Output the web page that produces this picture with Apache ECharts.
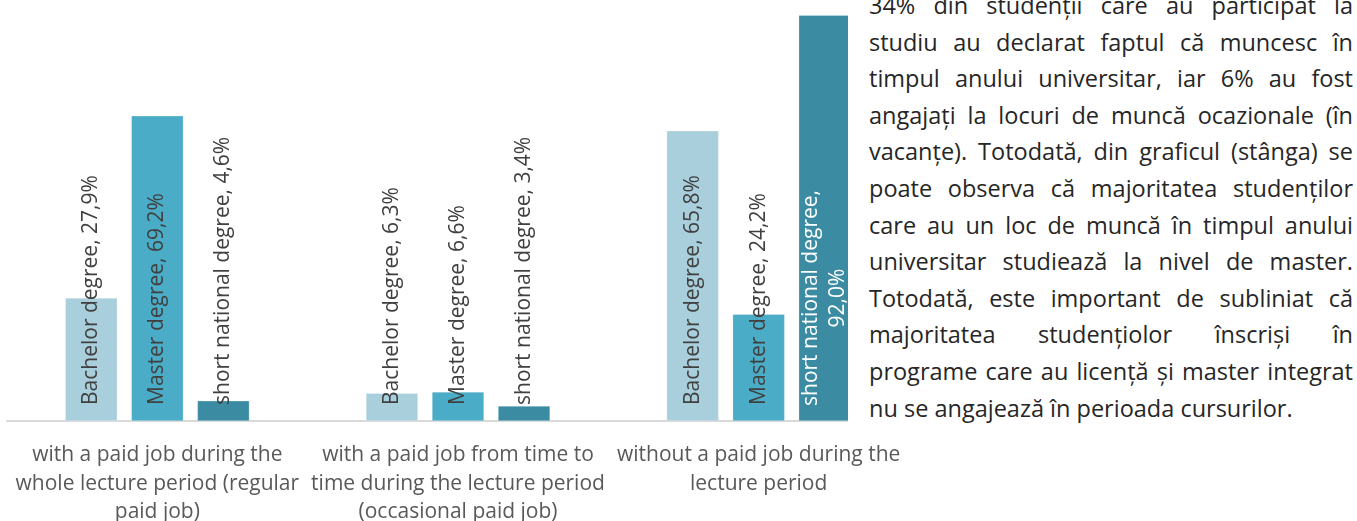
<!DOCTYPE html>
<html>
<head>
<meta charset="utf-8">
<script src="https://cdn.jsdelivr.net/npm/echarts@6/dist/echarts.min.js"></script>
<style>
  html, body { margin: 0; padding: 0; background: #fff; }
  #wrap { position: relative; width: 1357px; height: 521px; overflow: hidden; }
  #chart { position: absolute; left: 0; top: 0; width: 1357px; height: 521px; }
  #note {
    position: absolute; left: 848px; top: 0; width: 509px; height: 423px;
    background: #fff; overflow: hidden;
  }
  #note .inner {
    margin-left: 21px; width: 484px; margin-top: -13px;
    font-family: "Open Sans", sans-serif; font-size: 23.5px;
    line-height: 36.6px; color: #262626;
  }
  #note .line { white-space: nowrap; text-align: justify; text-align-last: justify; }
  #note .line.last { text-align: left; text-align-last: left; }
</style>
</head>
<body>
<div id="wrap">
  <div id="chart"></div>
  <div id="note"><div class="inner" id="noteInner"></div></div>
</div>
<script>
const categories = [
  "with a paid job during the\nwhole lecture period (regular\npaid job)",
  "with a paid job from time to\ntime during the lecture period\n(occasional paid job)",
  "without a paid job during the\nlecture period",
];
const seriesNames = ["Bachelor degree", "Master degree", "short national degree"];
const bachelor = [27.9, 6.3, 65.8];
const master = [69.2, 6.6, 24.2];
const shortNational = [4.6, 3.4, 92.0];
const colors = ["#a9cfdc", "#4aacc6", "#3b8ca3"];

const noteLines = [
  "34% din studenții care au participat la",
  "studiu au declarat faptul că muncesc în",
  "timpul anului universitar, iar 6% au fost",
  "angajați la locuri de muncă ocazionale (în",
  "vacanțe). Totodată, din graficul (stânga) se",
  "poate observa că majoritatea studenților",
  "care au un loc de muncă în timpul anului",
  "universitar studiează la nivel de master.",
  "Totodată, este important de subliniat că",
  "majoritatea studențiolor înscriși în",
  "programe care au licență și master integrat",
  "nu se angajează în perioada cursurilor.",
];

const font = "'Open Sans', sans-serif";
const fmt = (v) => v.toFixed(1).replace(".", ",") + "%";

const inner = document.getElementById("noteInner");
noteLines.forEach((t, i) => {
  const d = document.createElement("div");
  d.className = "line" + (i === noteLines.length - 1 ? " last" : "");
  d.textContent = t;
  inner.appendChild(d);
});

function makeSeries(name, values, idx) {
  return {
    name: name,
    type: "bar",
    barWidth: 52,
    barGap: "27%",
    itemStyle: { color: colors[idx], borderColor: "rgba(255,255,255,0.5)", borderWidth: 0.5 },
    label: {
      show: true,
      position: "insideBottom",
      distance: 16,
      rotate: 90,
      align: "left",
      verticalAlign: "middle",
      fontFamily: font,
      fontSize: 21,
      color: "#404040",
      formatter: (p) => name + ", " + fmt(p.value),
    },
    data: values.map((v) => {
      // the tallest bar wraps its label in two white lines, as in the original
      if (v > 90) {
        return {
          value: v,
          label: {
            formatter: "{w|" + name + ",}\n{w|" + fmt(v) + "}",
            rich: {
              w: { width: 214, align: "center", color: "#fff", fontSize: 21, lineHeight: 27, fontFamily: font },
            },
          },
        };
      }
      return v;
    }),
  };
}

const myChart = echarts.init(document.getElementById("chart"));
myChart.setOption({
  animation: false,
  grid: { left: 7, right: 448, top: 2, bottom: 100, outerBoundsMode: "none" },
  xAxis: {
    type: "category",
    data: categories,
    axisTick: { show: false },
    axisLine: { lineStyle: { color: "#d9d9d9", width: 2 } },
    axisLabel: {
      interval: 0,
      margin: 20,
      fontFamily: font,
      fontSize: 21,
      lineHeight: 28.5,
      color: "#595959",
    },
  },
  yAxis: {
    type: "value",
    min: 0,
    max: 95,
    show: false,
    splitLine: { show: false },
  },
  series: [
    makeSeries(seriesNames[0], bachelor, 0),
    makeSeries(seriesNames[1], master, 1),
    makeSeries(seriesNames[2], shortNational, 2),
  ],
});
</script>
</body>
</html>
